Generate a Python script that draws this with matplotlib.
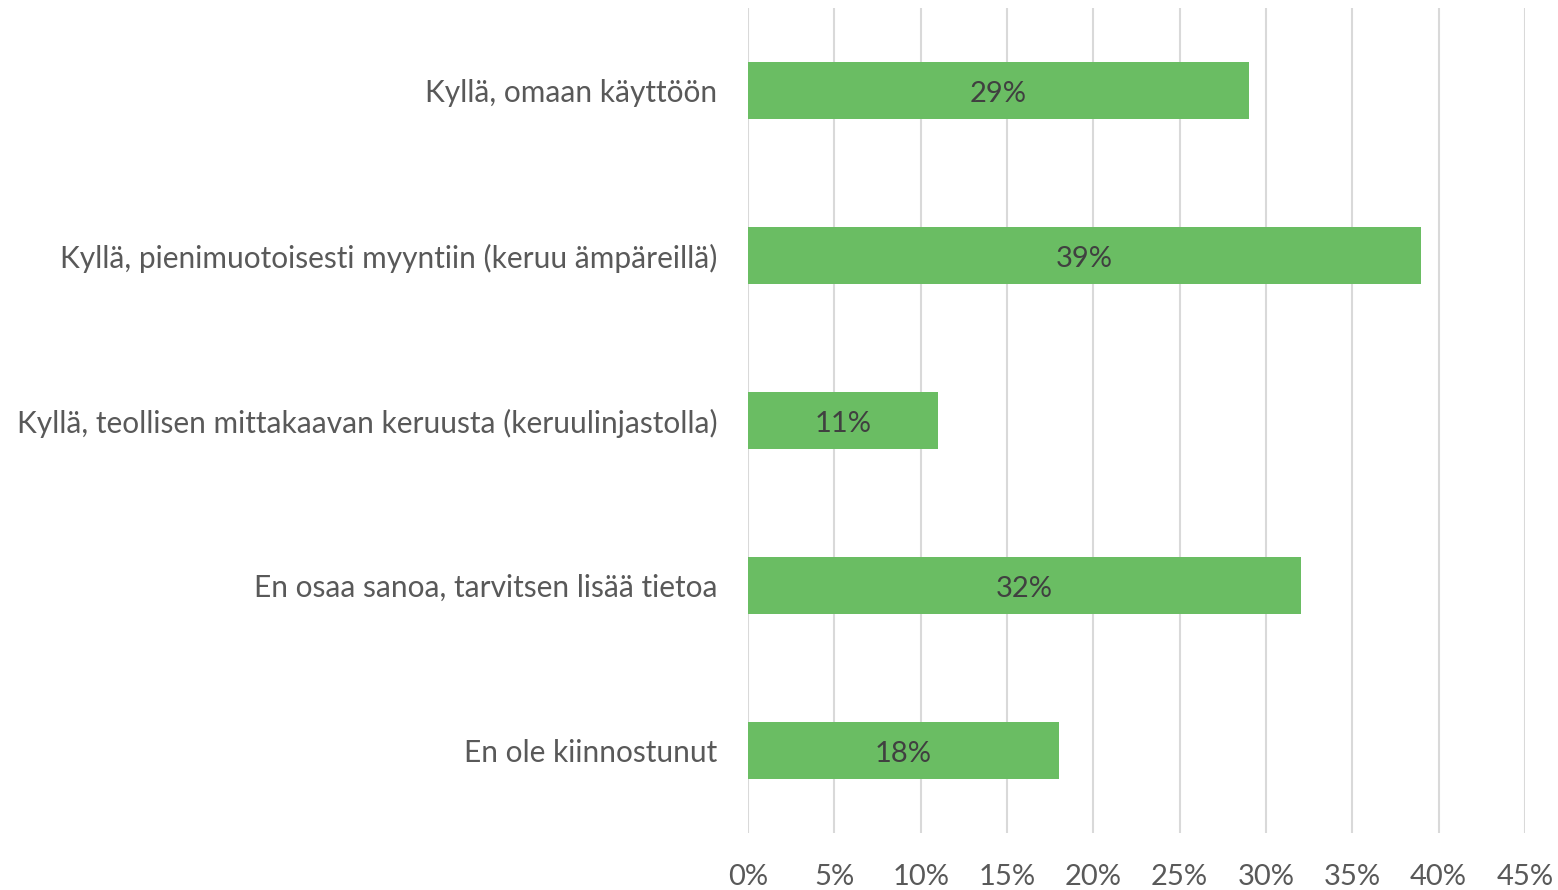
import matplotlib.pyplot as plt
from matplotlib.ticker import PercentFormatter

plt.rcParams['font.family'] = ['Lato', 'DejaVu Sans']

# Data
kategoriat = [
    "Kyllä, omaan käyttöön",
    "Kyllä, pienimuotoisesti myyntiin (keruu ämpäreillä)",
    "Kyllä, teollisen mittakaavan keruusta (keruulinjastolla)",
    "En osaa sanoa, tarvitsen lisää tietoa",
    "En ole kiinnostunut",
]
osuudet = [29, 39, 11, 32, 18]

fig = plt.figure(figsize=(15.58, 8.90), dpi=100)
ax = fig.add_axes([0.4801, 0.064, 0.4987, 0.927])

y = list(range(len(kategoriat)))
palkit = ax.barh(y, osuudet, height=0.35, color="#6ABD63", zorder=2)

for p, v in zip(palkit, osuudet):
    ax.text(p.get_width() / 2, p.get_y() + p.get_height() / 2 + 0.02, f"{v}%",
            ha="center", va="center", fontsize=21, color="#404040")

ax.set_yticks(y)
ax.set_yticklabels(kategoriat, fontsize=21.5, color="#595959")
ax.set_ylim(len(kategoriat) - 0.5, -0.5)

ax.set_xlim(0, 45)
ax.set_xticks(range(0, 46, 5))
ax.xaxis.set_major_formatter(PercentFormatter(decimals=0))
ax.tick_params(axis="x", labelsize=21, labelcolor="#595959", length=0, pad=22)
ax.tick_params(axis="y", length=0, pad=22)

ax.grid(axis="x", color="#D9D9D9", linewidth=1.5, zorder=0)
for s in ax.spines.values():
    s.set_visible(False)

plt.savefig("out.png", dpi=100)
